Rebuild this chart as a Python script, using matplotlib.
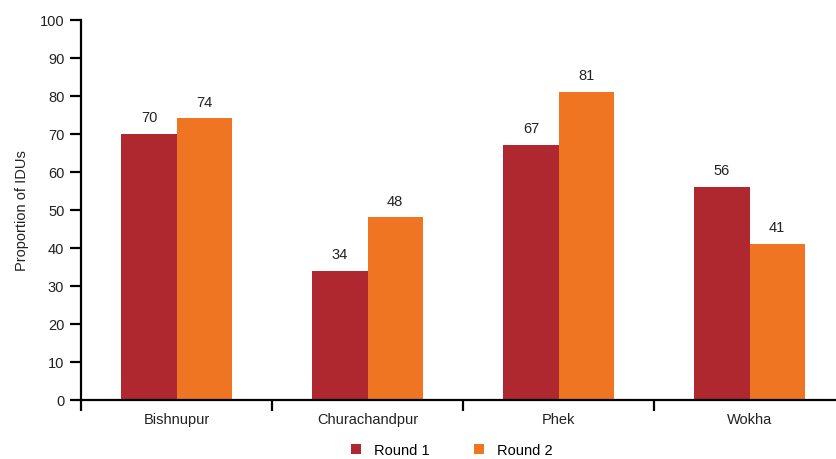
import matplotlib
matplotlib.use("Agg")
import matplotlib.pyplot as plt
import numpy as np

plt.rcParams['font.family'] = ['Liberation Sans', 'DejaVu Sans']

districts = ["Bishnupur", "Churachandpur", "Phek", "Wokha"]
round1 = [70, 34, 67, 56]
round2 = [74, 48, 81, 41]
series_names = ["Round 1", "Round 2"]
colors = ["#B0282F", "#F07522"]

W, H = 836, 460
fs = 10.5
fig = plt.figure(figsize=(W / 100, H / 100), dpi=100)
ax = fig.add_axes([81 / W, 1 - 401 / H, (845 - 81) / W, (401 - 20.5) / H])

x = np.arange(len(districts))
bw = 0.288
for vals, off, c, name in [(round1, -bw / 2, colors[0], series_names[0]),
                           (round2, bw / 2, colors[1], series_names[1])]:
    bars = ax.bar(x + off, vals, width=bw, color=c, label=name, zorder=2)
    for b, v in zip(bars, vals):
        ax.annotate(f"{v}", (b.get_x() + b.get_width() / 2, v),
                    xytext=(0, 7), textcoords="offset points",
                    ha="center", va="bottom", fontsize=fs, color="#222222")

ax.set_xlim(-0.5, len(districts) - 0.5)
ax.set_ylim(0, 100)
ax.set_yticks(np.arange(0, 101, 10))
ax.set_xticks(np.arange(len(districts) + 1) - 0.5)
ax.set_xticklabels([])
ax.set_xticks(x, minor=True)
ax.set_xticklabels(districts, minor=True)
ax.tick_params(axis="x", which="minor", length=0, pad=9, labelsize=fs, labelcolor="#222222")
ax.tick_params(axis="x", which="major", length=8, width=1.6, direction="out")
ax.tick_params(axis="y", length=8, width=1.6, direction="out", labelsize=fs,
               labelcolor="#222222", pad=4)
ax.set_ylabel("Proportion of IDUs", fontsize=fs, color="#222222", labelpad=8)

for s in ["top", "right"]:
    ax.spines[s].set_visible(False)
for s in ["left", "bottom"]:
    ax.spines[s].set_linewidth(1.6)
    ax.spines[s].set_color("black")

fig.legend(loc="center", bbox_to_anchor=(452 / W, 1 - 451 / H), ncol=2,
           frameon=False, fontsize=fs, handlelength=0.7, handleheight=0.7,
           handletextpad=0.9, columnspacing=3.0)

fig.savefig("out.png", dpi=100)
